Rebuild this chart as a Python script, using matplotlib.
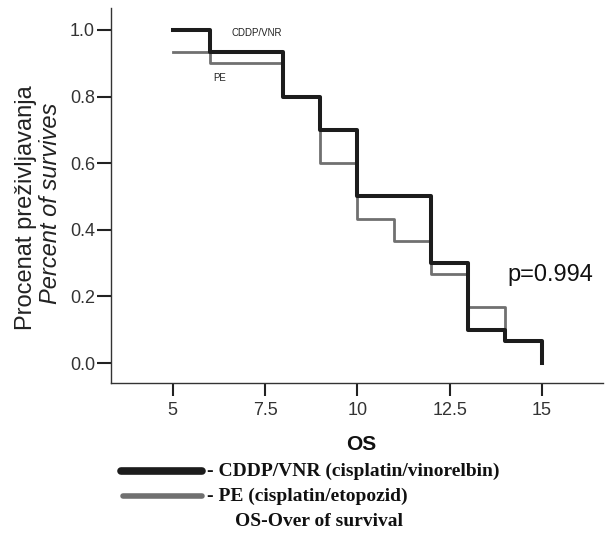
import matplotlib
matplotlib.use("Agg")
import matplotlib.pyplot as plt
from matplotlib.lines import Line2D

# Kaplan-Meier steps
cddp_time = [5, 6, 8, 9, 10, 12, 13, 14, 15]
cddp_surv = [1.0, 0.933, 0.8, 0.7, 0.5, 0.3, 0.1, 0.067, 0.0]
pe_time = [5, 6, 8, 9, 10, 11, 12, 13, 14, 15]
pe_surv = [0.933, 0.9, 0.8, 0.6, 0.433, 0.367, 0.267, 0.167, 0.067, 0.0]

x_ticks = [5, 7.5, 10, 12.5, 15]
x_tick_labels = ["5", "7.5", "10", "12.5", "15"]
y_ticks = [0.0, 0.2, 0.4, 0.6, 0.8, 1.0]
y_tick_labels = ["0.0", "0.2", "0.4", "0.6", "0.8", "1.0"]

dark = "#1c1c1c"
gray = "#707070"
sans = "Liberation Sans"
serif = "Liberation Serif"

W, H = 612, 547
fig = plt.figure(figsize=(W / 100, H / 100), dpi=100)
ax = fig.add_axes([111 / W, 1 - 383 / H, (603 - 111) / W, (383 - 8) / H])

ax.step(pe_time, pe_surv, where="post", color=gray, lw=2.0)
ax.step(cddp_time, cddp_surv, where="post", color=dark, lw=2.9)

ax.set_xlim(3.33, 16.65)
ax.set_ylim(-0.06, 1.066)
ax.set_xticks(x_ticks)
ax.set_xticklabels(x_tick_labels, fontfamily=sans, fontsize=13, color="#333333")
ax.set_yticks(y_ticks)
ax.set_yticklabels(y_tick_labels, fontfamily=sans, fontsize=13, color="#333333")
ax.tick_params(axis="x", length=9, width=1.5, pad=5, color="#222222")
ax.tick_params(axis="y", length=10, width=1.5, pad=1.5, color="#222222")

for side in ["top", "right"]:
    ax.spines[side].set_visible(False)
for side in ["left", "bottom"]:
    ax.spines[side].set_linewidth(1.0)
    ax.spines[side].set_color("#333333")

# small in-plot labels and p value
ax.text(6.6, 0.99, "CDDP/VNR", fontfamily=sans, fontsize=7, va="center", color="#222222")
ax.text(6.1, 0.855, "PE", fontfamily=sans, fontsize=7, va="center", color="#222222")
ax.text(14.05, 0.265, "p=0.994", fontfamily=sans, fontsize=17, va="center", color="#111111")

# y axis label, two lines
fig.text(26 / W, 1 - 208 / H, "Procenat preživljavanja", rotation=90, ha="center", va="center",
         fontfamily=sans, fontsize=17, color="#222222")
fig.text(51 / W, 1 - 203 / H, "Percent of survives", rotation=90, ha="center", va="center",
         fontfamily=sans, fontsize=17, style="italic", color="#222222")

# x axis title and legend below the chart
fig.text(361 / W, 1 - 445 / H, "OS", ha="center", va="center",
         fontfamily=sans, fontsize=15, fontweight="bold", color="#111111")

fig.add_artist(Line2D([121 / W, 202 / W], [1 - 471 / H, 1 - 471 / H], color=dark, lw=5.5,
                      solid_capstyle="round"))
fig.add_artist(Line2D([123 / W, 202 / W], [1 - 496 / H, 1 - 496 / H], color=gray, lw=4.0,
                      solid_capstyle="round"))
fig.text(207 / W, 1 - 471 / H, "- CDDP/VNR (cisplatin/vinorelbin)", ha="left", va="center",
         fontfamily=serif, fontsize=14, fontweight="bold", color="#111111")
fig.text(207 / W, 1 - 496 / H, "- PE (cisplatin/etopozid)", ha="left", va="center",
         fontfamily=serif, fontsize=14, fontweight="bold", color="#111111")
fig.text(235 / W, 1 - 522 / H, "OS-Over of survival", ha="left", va="center",
         fontfamily=serif, fontsize=14, fontweight="bold", color="#111111")

fig.savefig("out.png", dpi=100)
